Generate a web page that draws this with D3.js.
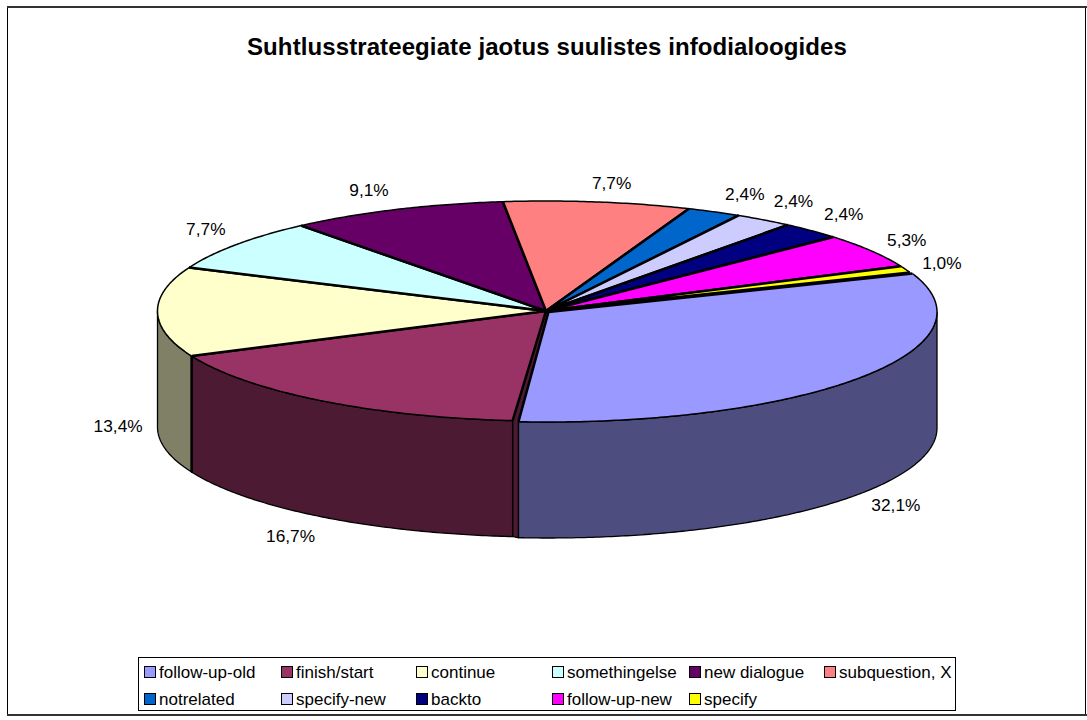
<!DOCTYPE html>
<html><head><meta charset="utf-8">
<script src="https://cdn.jsdelivr.net/npm/d3@7"></script>
<style>html,body{margin:0;padding:0;background:#fff}svg{display:block}text{font-family:"Liberation Sans",Arial,sans-serif;fill:#000}</style>
</head><body><svg id="c" width="1087" height="720"></svg>
<script>
const title = "Suhtlusstrateegiate jaotus suulistes infodialoogides";
const categories = ["follow-up-old","finish/start","continue","somethingelse","new dialogue","subquestion, X","notrelated","specify-new","backto","follow-up-new","specify"];
const values = [32.1,16.7,13.4,7.7,9.1,7.7,2.4,2.4,2.4,5.3,1.0];
const colors = ["#9999FF","#993366","#FFFFCC","#CCFFFF","#660066","#FF8080","#0066CC","#CCCCFF","#000080","#FF00FF","#FFFF00"];
const labelNudge = [[-4,3],[1,7],[15,-2],[13,-6],[-6,-5],[7,-4],[7,-4],[-1,-6],[-5,-6],[-10,-2],[-14,-1]];

const svg = d3.select("#c");
const cx=546, cy=311, rx=388.5, ry=110, depth=116, startDeg=69.5;
const explode=[2.5,1];
const PI=Math.PI, rad=PI/180;

// frame
svg.append("rect").attr("x",7.5).attr("y",7.5).attr("width",1078).attr("height",707).attr("fill","#fff").attr("stroke","#000");
[[7],[715]].forEach(([y])=>svg.append("line").attr("x1",7).attr("x2",1087).attr("y1",y).attr("y2",y).attr("stroke","#333").attr("stroke-width",2));
svg.append("text").attr("x",547).attr("y",55).attr("text-anchor","middle").attr("font-size",24).attr("font-weight","bold").attr("letter-spacing",0.1).text(title);

// the source's 3D projection bends the angles slightly
const warp=d3.scaleLinear().domain([69.5,185,245,294,354,382,390,399,407.5,426.6,429.5]).range([0,0,1,.3,.3,.6,.1,.3,.9,0,0]);
const wa=t=>t+warp(t/rad)*rad;
const pie = d3.pie().sort(null).startAngle(startDeg*rad).endAngle((startDeg+360)*rad)(values)
  .map(d=>({startAngle:wa(d.startAngle),endAngle:wa(d.endAngle)}));
// small seam between the pulled-out slice and its neighbour
pie[0].endAngle-=0.4*rad;
pie[1].startAngle+=0.1*rad;
const X=t=>cx+rx*Math.sin(t), Y=t=>cy-ry*Math.cos(t);
const arcPts=(a,b,f)=>{const n=Math.max(2,Math.ceil(Math.abs(b-a)/0.01));return d3.range(n+1).map(i=>f(a+(b-a)*i/n));};
const line=d3.line();
const root=svg.append("g");
const shade=c=>{const r=d3.rgb(c);return d3.rgb(r.r/2,r.g/2,r.b/2).formatHex();};
const offs=pie.map((d,i)=>i===0?explode:[0,0]);

const walls=[];
pie.forEach((d,i)=>{
  [0,2*PI,-2*PI].forEach(s=>{
    const a=d.startAngle+s,b=d.endAngle+s;
    const lo=Math.max(a,PI/2), hi=Math.min(b,3*PI/2);
    if(hi>lo) walls.push({i,lo,hi});
  });
});
const e0=pie[1].startAngle, e1=pie[0].endAngle;
const fx=X(e1)+explode[0], fy=Y(e1)+explode[1];
root.append("path").attr("d",line([[cx,cy],[X(e0),Y(e0)],[X(e0),Y(e0)+depth],[fx,fy+depth],[fx,fy],[cx+explode[0],cy+explode[1]]])+"Z")
  .attr("fill",shade(colors[1])).attr("stroke","#000").attr("stroke-width",1.2);
walls.forEach(w=>{
  const [dx,dy]=offs[w.i];
  const top=arcPts(w.lo,w.hi,t=>[X(t)+dx,Y(t)+dy]);
  const bot=arcPts(w.hi,w.lo,t=>[X(t)+dx,Y(t)+dy+depth]);
  root.append("path").attr("d",line(top.concat(bot))+"Z").attr("fill",shade(colors[w.i])).attr("stroke","#000").attr("stroke-width",1.3);
  [w.lo,w.hi].forEach(t=>{
    if(Math.abs(t-PI/2)<1e-6||Math.abs(t-3*PI/2)<1e-6||t===e0||t===e1) return;
    root.append("line").attr("x1",X(t)+dx).attr("x2",X(t)+dx).attr("y1",Y(t)+dy).attr("y2",Y(t)+dy+depth).attr("stroke","#000").attr("stroke-width",2.4);
  });
});
pie.forEach((d,i)=>{
  const [dx,dy]=offs[i];
  const rim=arcPts(d.startAngle,d.endAngle,t=>[X(t)+dx,Y(t)+dy]);
  const hub=[cx+dx,cy+dy];
  root.append("path").attr("d",line([hub].concat(rim))+"Z").attr("fill",colors[i]);
  root.append("path").attr("d",line(rim)).attr("fill","none").attr("stroke","#000").attr("stroke-width",1.5);
  root.append("path").attr("d",line([rim[0],hub,rim[rim.length-1]])).attr("fill","none").attr("stroke","#000").attr("stroke-width",2.5).attr("stroke-linejoin","round");
});
// labels
const k=1.14;
pie.forEach((d,i)=>{
  const m=(d.startAngle+d.endAngle)/2, c=Math.cos(m);
  const lx=cx+k*rx*Math.sin(m)+labelNudge[i][0];
  const ly=cy-k*ry*c+(c<0?depth:0)+labelNudge[i][1];
  root.append("text").attr("x",lx).attr("y",ly).attr("dy","0.35em").attr("text-anchor","middle").attr("font-size",17.3).text(d3.format(".1f")(values[i]).replace(".",",")+"%");
});
// legend
const lg=svg.append("g");
lg.append("rect").attr("x",138.5).attr("y",657.5).attr("width",817).attr("height",53).attr("fill","#fff").attr("stroke","#000");
const colX=d3.scaleOrdinal().domain(d3.range(6)).range([144,281,416,552,689,824]);
categories.forEach((c,i)=>{
  const col=i%6,row=Math.floor(i/6),x=colX(col),y=672+row*26.5;
  lg.append("rect").attr("x",x+.5).attr("y",Math.round(y-6)+.5).attr("width",11).attr("height",11).attr("fill",colors[i]).attr("stroke","#000");
  lg.append("text").attr("x",x+15).attr("y",y+6).attr("font-size",17).text(c);
});
</script></body></html>
